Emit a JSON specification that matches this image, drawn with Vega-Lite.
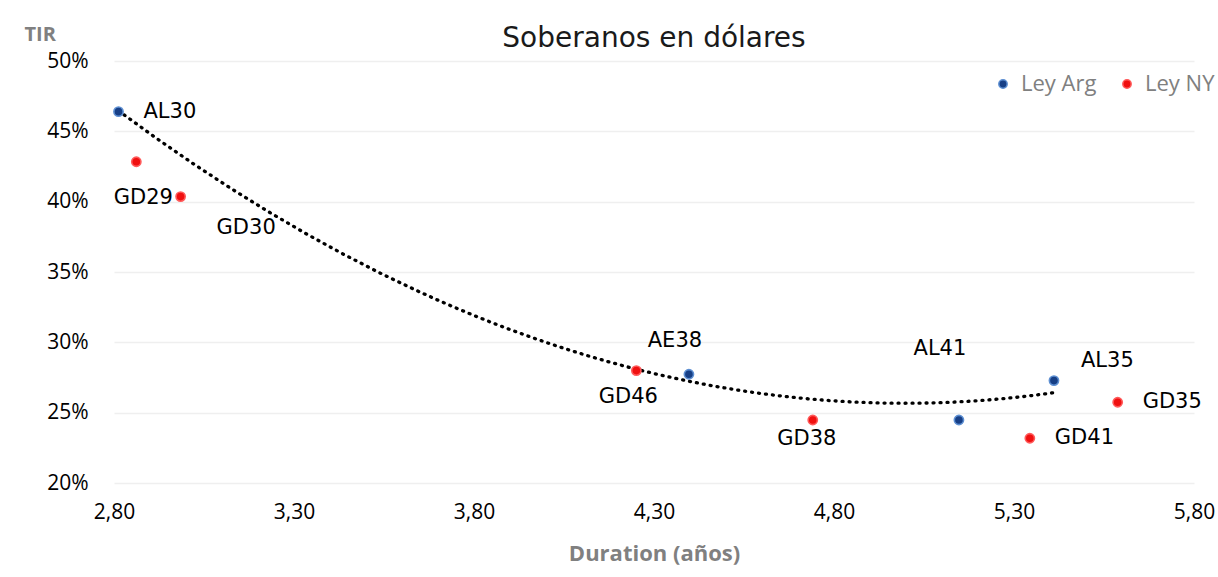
{
  "$schema": "https://vega.github.io/schema/vega-lite/v6.json",
  "autosize": {"type": "none"},
  "width": 1080,
  "height": 422,
  "padding": {"left": 114, "top": 61, "right": 24, "bottom": 94},
  "background": "#ffffff",
  "config": {
    "view": {"stroke": null},
    "locale": {"number": {"decimal": ",", "thousands": ".", "grouping": [3], "currency": ["$", ""]}},
    "axis": {"labelFont": "Open Sans", "titleFont": "Open Sans"}
  },
  "title": {
    "text": "Soberanos en dólares",
    "font": "DejaVu Sans",
    "fontSize": 28,
    "fontWeight": "normal",
    "color": "#1a1a1a",
    "anchor": "middle",
    "frame": "group",
    "baseline": "alphabetic",
    "offset": 0,
    "dy": 51
  },
  "data": {
    "values": [
      {"bono": "AL30", "ley": "Ley Arg", "duration": 2.8125, "tir": 0.464},
      {"bono": "GD29", "ley": "Ley NY", "duration": 2.862, "tir": 0.4284},
      {"bono": "GD30", "ley": "Ley NY", "duration": 2.985, "tir": 0.4036},
      {"bono": "GD46", "ley": "Ley NY", "duration": 4.251, "tir": 0.2799},
      {"bono": "AE38", "ley": "Ley Arg", "duration": 4.397, "tir": 0.2773},
      {"bono": "GD38", "ley": "Ley NY", "duration": 4.741, "tir": 0.2448},
      {"bono": "AL41", "ley": "Ley Arg", "duration": 5.147, "tir": 0.2448},
      {"bono": "GD41", "ley": "Ley NY", "duration": 5.344, "tir": 0.2318},
      {"bono": "AL35", "ley": "Ley Arg", "duration": 5.411, "tir": 0.2728},
      {"bono": "GD35", "ley": "Ley NY", "duration": 5.588, "tir": 0.2574}
    ]
  },
  "encoding": {
    "x": {
      "field": "duration", "type": "quantitative",
      "scale": {"domain": [2.8, 5.8], "nice": false, "zero": false},
      "axis": {
        "values": [2.8, 3.3, 3.8, 4.3, 4.8, 5.3, 5.8],
        "format": ".2f",
        "grid": false, "ticks": false, "domain": false,
        "labelFlush": false, "labelOverlap": false, "labelBound": false,
        "labelFontSize": 21, "labelColor": "#000000", "labelPadding": 18,
        "title": "Duration (años)",
        "titleFontSize": 22, "titleFontWeight": "bold", "titleColor": "#808080",
        "titleBaseline": "alphabetic", "titleY": 77
      }
    },
    "y": {
      "field": "tir", "type": "quantitative",
      "scale": {"domain": [0.2, 0.5], "nice": false, "zero": false},
      "axis": {
        "values": [0.2, 0.25, 0.3, 0.35, 0.4, 0.45, 0.5],
        "format": ".0%",
        "grid": true, "gridColor": "#efefef", "gridWidth": 1.5,
        "ticks": false, "domain": false,
        "labelFlush": false, "labelOverlap": false,
        "labelFontSize": 21, "labelColor": "#000000", "labelPadding": 26,
        "title": "TIR",
        "titleAngle": 0, "titleAlign": "left", "titleBaseline": "alphabetic",
        "titleX": -90, "titleY": -21,
        "titleFontSize": 20, "titleFontWeight": "bold", "titleColor": "#808080"
      }
    }
  },
  "layer": [
    {
      "transform": [
        {"filter": "datum.ley == 'Ley Arg'"},
        {"regression": "tir", "on": "duration", "method": "poly", "order": 2}
      ],
      "mark": {"type": "line", "color": "#000000", "strokeWidth": 3.3, "strokeDash": [1, 6], "strokeCap": "round"},
      "encoding": {}
    },
    {
      "mark": {"type": "point", "shape": "circle", "filled": true, "size": 85, "opacity": 1, "strokeWidth": 1.6},
      "encoding": {
        "fill": {
          "field": "ley", "type": "nominal",
          "scale": {"domain": ["Ley Arg", "Ley NY"], "range": ["#173f86", "#f01010"]},
          "legend": {
            "orient": "none", "legendX": 878, "legendY": 12,
            "direction": "horizontal", "title": null,
            "symbolType": "circle", "symbolSize": 70, "symbolStrokeWidth": 1.5,
            "labelFont": "Open Sans", "labelFontSize": 22, "labelColor": "#808080",
            "labelOffset": 7, "columnPadding": 19
          }
        },
        "stroke": {
          "field": "ley", "type": "nominal",
          "scale": {"domain": ["Ley Arg", "Ley NY"], "range": ["#5d8fd2", "#ff5a5a"]},
          "legend": null
        }
      }
    },
    {"transform": [{"filter": "datum.bono == 'AL30'"}], "mark": {"type": "text", "font": "DejaVu Sans", "fontSize": 21, "color": "#000000", "align": "left", "baseline": "middle", "dx": 25, "dy": 0}, "encoding": {"text": {"field": "bono"}}},
    {"transform": [{"filter": "datum.bono == 'GD29'"}], "mark": {"type": "text", "font": "DejaVu Sans", "fontSize": 21, "color": "#000000", "align": "center", "baseline": "middle", "dx": 7, "dy": 36}, "encoding": {"text": {"field": "bono"}}},
    {"transform": [{"filter": "datum.bono == 'GD30'"}], "mark": {"type": "text", "font": "DejaVu Sans", "fontSize": 21, "color": "#000000", "align": "left", "baseline": "middle", "dx": 36, "dy": 31}, "encoding": {"text": {"field": "bono"}}},
    {"transform": [{"filter": "datum.bono == 'GD46'"}], "mark": {"type": "text", "font": "DejaVu Sans", "fontSize": 21, "color": "#000000", "align": "center", "baseline": "middle", "dx": -8, "dy": 26}, "encoding": {"text": {"field": "bono"}}},
    {"transform": [{"filter": "datum.bono == 'AE38'"}], "mark": {"type": "text", "font": "DejaVu Sans", "fontSize": 21, "color": "#000000", "align": "center", "baseline": "middle", "dx": -14, "dy": -33}, "encoding": {"text": {"field": "bono"}}},
    {"transform": [{"filter": "datum.bono == 'GD38'"}], "mark": {"type": "text", "font": "DejaVu Sans", "fontSize": 21, "color": "#000000", "align": "center", "baseline": "middle", "dx": -6, "dy": 19}, "encoding": {"text": {"field": "bono"}}},
    {"transform": [{"filter": "datum.bono == 'AL41'"}], "mark": {"type": "text", "font": "DejaVu Sans", "fontSize": 21, "color": "#000000", "align": "center", "baseline": "middle", "dx": -19, "dy": -71}, "encoding": {"text": {"field": "bono"}}},
    {"transform": [{"filter": "datum.bono == 'AL35'"}], "mark": {"type": "text", "font": "DejaVu Sans", "fontSize": 21, "color": "#000000", "align": "left", "baseline": "middle", "dx": 27, "dy": -20}, "encoding": {"text": {"field": "bono"}}},
    {"transform": [{"filter": "datum.bono == 'GD35'"}], "mark": {"type": "text", "font": "DejaVu Sans", "fontSize": 21, "color": "#000000", "align": "left", "baseline": "middle", "dx": 25, "dy": 0}, "encoding": {"text": {"field": "bono"}}},
    {"transform": [{"filter": "datum.bono == 'GD41'"}], "mark": {"type": "text", "font": "DejaVu Sans", "fontSize": 21, "color": "#000000", "align": "left", "baseline": "middle", "dx": 25, "dy": 0}, "encoding": {"text": {"field": "bono"}}}
  ]
}
